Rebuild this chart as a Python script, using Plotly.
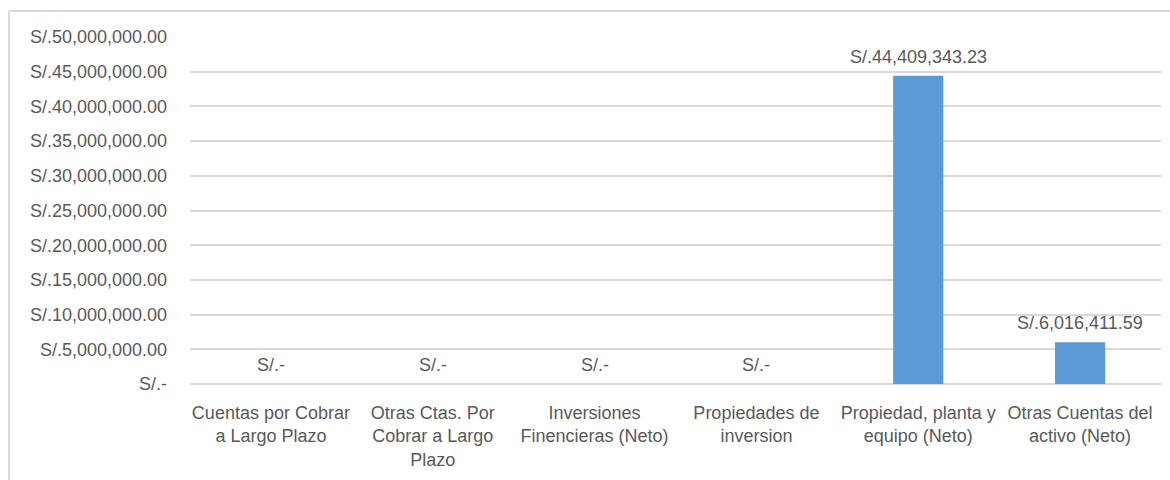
import plotly.graph_objects as go

# Activo no corriente por rubro (en soles)
categorias = [
    "Cuentas por Cobrar<br>a Largo Plazo",
    "Otras Ctas. Por<br>Cobrar a Largo<br>Plazo",
    "Inversiones<br>Finencieras (Neto)",
    "Propiedades de<br>inversion",
    "Propiedad, planta y<br>equipo (Neto)",
    "Otras Cuentas del<br>activo (Neto)",
]
valores = [0, 0, 0, 0, 44409343.23, 6016411.59]
ticks_y = [0, 5e6, 10e6, 15e6, 20e6, 25e6, 30e6, 35e6, 40e6, 45e6, 50e6]


def soles(v):
    return "S/.-" if v == 0 else "S/.{:,.2f}".format(v)


FUENTE = "Liberation Sans"
TAM = 18
GRIS_TEXTO = "#595959"
GRIS_LINEA = "#d9d9d9"

fig = go.Figure(
    go.Bar(
        x=categorias,
        y=valores,
        marker=dict(color="#5b9bd5", line=dict(width=0)),
        hoverinfo="skip",
    )
)

# Etiquetas de valor sobre cada barra
for c, v in zip(categorias, valores):
    fig.add_annotation(
        x=c, y=v, text=soles(v), showarrow=False,
        yanchor="bottom", yshift=7,
        font=dict(family=FUENTE, size=TAM, color=GRIS_TEXTO),
    )

# Borde del área del gráfico (superior e izquierdo)
fig.add_shape(type="line", xref="paper", yref="paper",
              x0=-0.1864, x1=1.02, y0=1.0749, y1=1.0749,
              line=dict(color=GRIS_LINEA, width=2))
fig.add_shape(type="line", xref="paper", yref="paper",
              x0=-0.1864, x1=-0.1864, y0=1.0749, y1=-0.4,
              line=dict(color=GRIS_LINEA, width=2))

fig.update_layout(
    width=1170, height=480,
    margin=dict(l=190, r=9, t=37, b=96),
    paper_bgcolor="white", plot_bgcolor="white",
    bargap=0.69,
    showlegend=False,
    font=dict(family=FUENTE, size=TAM, color=GRIS_TEXTO),
    xaxis=dict(
        showgrid=False, showline=False, zeroline=False,
        ticks="", ticklabelstandoff=16,
        tickfont=dict(family=FUENTE, size=TAM, color=GRIS_TEXTO),
    ),
    yaxis=dict(
        range=[0, 50e6], tickvals=ticks_y, ticktext=[soles(t) for t in ticks_y],
        showgrid=True, gridcolor=GRIS_LINEA, gridwidth=2,
        zeroline=True, zerolinecolor=GRIS_LINEA, zerolinewidth=2,
        showline=False, ticks="", ticklabelstandoff=22,
        tickfont=dict(family=FUENTE, size=TAM, color=GRIS_TEXTO),
    ),
)

fig.write_html("out.html")
